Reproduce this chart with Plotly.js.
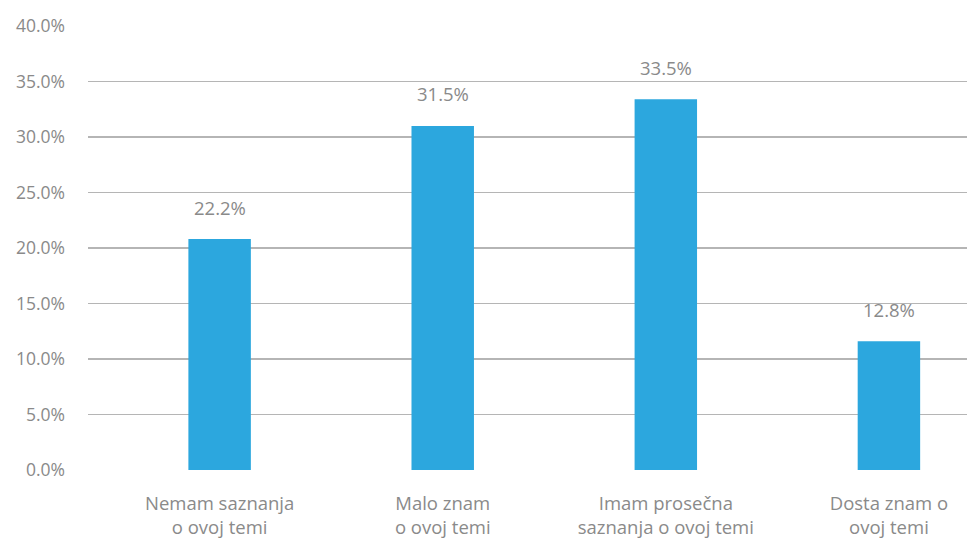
<!DOCTYPE html>
<html>
<head>
<meta charset="utf-8">
<script src="https://cdn.plot.ly/plotly-3.0.1.min.js"></script>
<style>html,body{margin:0;padding:0;background:#fff}#chart{width:967px;height:538px}</style>
</head>
<body>
<div id="chart"></div>
<script>
const categories = [
  "Nemam saznanja<br>o ovoj temi",
  "Malo znam<br>o ovoj temi",
  "Imam prosečna<br>saznanja o ovoj temi",
  "Dosta znam o<br>ovoj temi"
];
const barValues = [20.8, 31.0, 33.4, 11.6];
const valueLabels = ["22.2%", "31.5%", "33.5%", "12.8%"];
const yTickValues = [0, 5, 10, 15, 20, 25, 30, 35, 40];
const yTickLabels = ["0.0%", "5.0%", "10.0%", "15.0%", "20.0%", "25.0%", "30.0%", "35.0%", "40.0%"];

const textColor = "#8a8a8a";
const fontFamily = "'Open Sans', 'Noto Sans', sans-serif";

const trace = {
  type: "bar",
  x: categories,
  y: barValues,
  marker: {color: "#2ca7de"},
  hoverinfo: "none"
};

const annotations = categories.map((c, i) => ({
  x: c,
  y: barValues[i],
  text: valueLabels[i],
  showarrow: false,
  yanchor: "middle",
  yshift: 32,
  font: {family: fontFamily, size: 18.5, color: textColor}
}));

const layout = {
  width: 967,
  height: 538,
  margin: {l: 88, r: 0, t: 26, b: 68},
  paper_bgcolor: "#fff",
  plot_bgcolor: "#fff",
  showlegend: false,
  bargap: 0.72,
  font: {family: fontFamily, size: 17, color: textColor},
  xaxis: {
    type: "category",
    range: [-0.59, 3.35],
    showgrid: false,
    zeroline: false,
    showline: false,
    ticks: "",
    ticklabelstandoff: 20,
    tickfont: {family: fontFamily, size: 18.5, color: textColor}
  },
  yaxis: {
    range: [0, 40],
    tickmode: "array",
    tickvals: yTickValues,
    ticktext: yTickLabels,
    showgrid: true,
    gridcolor: "#b5b5b5",
    gridwidth: 1.5,
    zeroline: false,
    showline: false,
    ticks: "",
    ticklabelstandoff: 22,
    tickfont: {family: fontFamily, size: 17.5, color: textColor}
  },
  annotations: annotations
};

Plotly.newPlot("chart", [trace], layout, {staticPlot: true, displayModeBar: false});
</script>
</body>
</html>
